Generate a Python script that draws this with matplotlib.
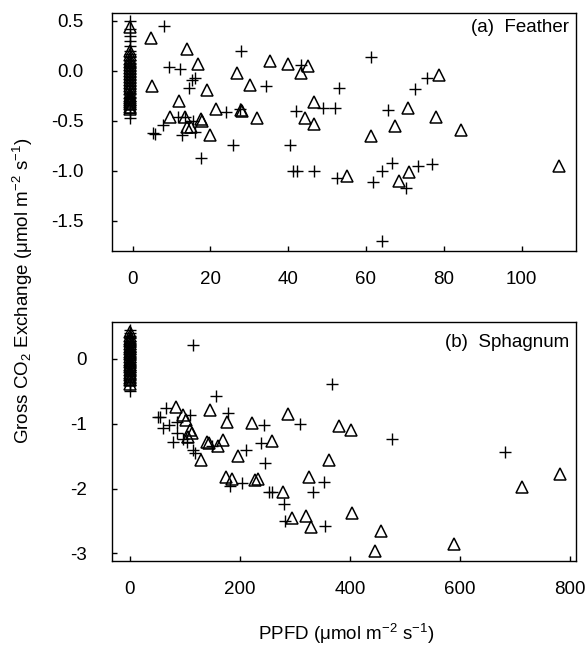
import matplotlib
matplotlib.use("Agg")
import matplotlib.pyplot as plt

plt.rcParams['font.family'] = ['Liberation Sans', 'DejaVu Sans']
plt.rcParams['mathtext.default'] = 'regular'
plt.rcParams['axes.unicode_minus'] = False

# ---------------- Panel (a) Feather ----------------
feather_night_x = -0.6
feather_night_cross_y = [0.50, 0.42, 0.35, 0.30, 0.25, 0.20, 0.17, 0.14, 0.11, 0.08, 0.05, 0.03,
                         0.00, -0.03, -0.06, -0.09, -0.12, -0.15, -0.18, -0.22, -0.26, -0.30,
                         -0.34, -0.38, -0.42, -0.47]
feather_night_tri_y = [0.44, 0.20, 0.16, 0.12, 0.09, 0.06, 0.03, 0.00, -0.03, -0.06, -0.09, -0.12,
                       -0.15, -0.18, -0.22, -0.25, -0.27, -0.29, -0.31, -0.33, -0.36, -0.38]

feather_cross_x = [8.0, 9.4, 12.2, 15.2, 16.0, 14.6, 11.7, 13.4, 15.5, 7.7, 5.3, 5.7, 12.8, 16.0,
                   17.7, 25.7, 24.0, 27.8, 27.5, 34.3, 40.5, 41.3, 42.3, 42.0, 43.4, 46.6, 49.0,
                   52.0, 53.1, 52.6, 61.4, 65.7, 64.0, 66.6, 61.9, 64.2, 72.6, 75.6, 73.3, 77.0, 70.2]
feather_cross_y = [0.45, 0.04, 0.02, -0.09, -0.07, -0.17, -0.46, -0.46, -0.50, -0.54, -0.62, -0.63,
                   -0.64, -0.61, -0.87, -0.74, -0.41, 0.20, -0.38, -0.15, -0.74, -1.00, -1.00, -0.40,
                   0.06, -1.00, -0.37, -0.37, -0.17, -1.07, 0.14, -0.39, -1.00, -0.92, -1.11, -1.70,
                   -0.18, -0.07, -0.95, -0.93, -1.17]

feather_tri_x = [4.7, 14.0, 16.7, 5.1, 19.2, 12.0, 9.7, 13.5, 13.9, 15.0, 17.5, 17.8, 19.9, 21.4,
                 26.9, 27.8, 28.2, 30.3, 32.0, 35.3, 40.0, 45.0, 43.4, 46.6, 44.3, 46.6, 55.2,
                 61.3, 67.4, 68.5, 71.0, 70.9, 78.7, 78.0, 84.4, 109.6]
feather_tri_y = [0.33, 0.22, 0.07, -0.15, -0.19, -0.30, -0.46, -0.46, -0.56, -0.56, -0.48, -0.50,
                 -0.64, -0.38, -0.02, -0.39, -0.40, -0.14, -0.47, 0.10, 0.07, 0.05, -0.02, -0.31,
                 -0.47, -0.53, -1.05, -0.65, -0.55, -1.10, -1.01, -0.37, -0.04, -0.46, -0.59, -0.95]

feather_xticks = [0, 20, 40, 60, 80, 100]
feather_yticks = [0.5, 0.0, -0.5, -1.0, -1.5]

# ---------------- Panel (b) Sphagnum ----------------
sph_night_x = 0.0
sph_night_cross_y = [0.45, 0.40, 0.36, 0.32, 0.28, 0.25, 0.22, 0.19, 0.16, 0.13, 0.10, 0.07, 0.04,
                     0.01, -0.02, -0.05, -0.08, -0.11, -0.14, -0.17, -0.20, -0.23, -0.27, -0.31,
                     -0.35, -0.40, -0.49]
sph_night_tri_y = [0.41, 0.36, 0.31, 0.27, 0.23, 0.19, 0.15, 0.11, 0.07, 0.03, -0.01, -0.05, -0.09,
                   -0.13, -0.17, -0.21, -0.25, -0.29, -0.33, -0.38]

sph_cross_x = [114, 156, 179, 65, 51.5, 54.5, 109, 85, 60.6, 71.5, 85, 103, 77.6, 97, 148.5, 114,
               118, 211, 182, 203, 253, 244, 238, 245, 367, 309, 476, 353, 258, 332, 280, 282,
               354.5, 682]
sph_cross_y = [0.22, -0.57, -0.83, -0.76, -0.89, -0.89, -0.87, -0.98, -1.06, -1.02, -1.15, -1.28,
               -1.28, -1.24, -1.35, -1.40, -1.45, -1.40, -1.96, -1.92, -2.05, -1.02, -1.29, -1.61,
               -0.39, -1.00, -1.24, -1.90, -2.05, -2.05, -2.24, -2.50, -2.58, -1.44]

sph_tri_x = [145, 176, 83, 97, 101, 109, 112, 106, 140.5, 144, 160.5, 169.6, 128.5, 197, 174.5,
             185, 227, 233, 221, 258, 288, 380.5, 401, 362, 326, 279, 294, 320, 329, 403, 456,
             445.5, 782, 713, 590]
sph_tri_y = [-0.78, -0.97, -0.74, -0.87, -0.94, -1.09, -1.15, -1.21, -1.28, -1.30, -1.34, -1.25,
             -1.56, -1.50, -1.82, -1.86, -1.87, -1.86, -0.99, -1.26, -0.85, -1.04, -1.09, -1.56,
             -1.82, -2.05, -2.45, -2.43, -2.59, -2.37, -2.65, -2.96, -1.77, -1.98, -2.85]

sph_xticks = [0, 200, 400, 600, 800]
sph_yticks = [0, -1, -2, -3]

fig = plt.figure(figsize=(5.87, 6.45), dpi=100)
ax1 = fig.add_axes([0.1908, 0.6109, 0.7905, 0.3690])
ax2 = fig.add_axes([0.1908, 0.1307, 0.7905, 0.3696])

FS = 13.5
ms = 8.2
def draw(ax, nx, ncy, nty, cx, cy, tx, ty):
    ax.plot([nx] * len(ncy), ncy, ls='none', marker='+', ms=ms, mew=1.0, color='black')
    ax.plot([nx] * len(nty), nty, ls='none', marker='^', ms=ms, mew=1.1, mfc='none', mec='black')
    ax.plot(cx, cy, ls='none', marker='+', ms=ms, mew=1.0, color='black')
    ax.plot(tx, ty, ls='none', marker='^', ms=ms, mew=1.1, mfc='none', mec='black')

draw(ax1, feather_night_x, feather_night_cross_y, feather_night_tri_y,
     feather_cross_x, feather_cross_y, feather_tri_x, feather_tri_y)
draw(ax2, sph_night_x, sph_night_cross_y, sph_night_tri_y,
     sph_cross_x, sph_cross_y, sph_tri_x, sph_tri_y)

ax1.set_xlim(-5.3, 114)
ax1.set_ylim(-1.80, 0.577)
ax1.set_xticks(feather_xticks)
ax1.set_yticks(feather_yticks)
ax1.set_yticklabels([f"{v:.1f}" for v in feather_yticks])

ax2.set_xlim(-32.7, 811)
ax2.set_ylim(-3.114, 0.566)
ax2.set_xticks(sph_xticks)
ax2.set_yticks(sph_yticks)

for ax, ypad in ((ax1, 20.5), (ax2, 18)):
    ax.tick_params(axis='both', direction='in', length=3.5, width=1.0, labelsize=FS,
                   top=False, right=False)
    ax.tick_params(axis='y', pad=ypad)
    ax.tick_params(axis='x', pad=14.5)
    for s in ax.spines.values():
        s.set_linewidth(1.0)

ax1.text(0.985, 0.937, "(a)  Feather", transform=ax1.transAxes, ha='right', va='center', fontsize=FS)
ax2.text(0.985, 0.917, "(b)  Sphagnum", transform=ax2.transAxes, ha='right', va='center', fontsize=FS)

fig.text(0.039, 0.549, "Gross CO$_2$ Exchange (μmol m$^{-2}$ s$^{-1}$)", rotation=90,
         ha='center', va='center', fontsize=FS)
fig.text(0.589, 0.008, "PPFD (μmol m$^{-2}$ s$^{-1}$)", ha='center', va='baseline', fontsize=FS)

fig.savefig("out.png", dpi=100)
